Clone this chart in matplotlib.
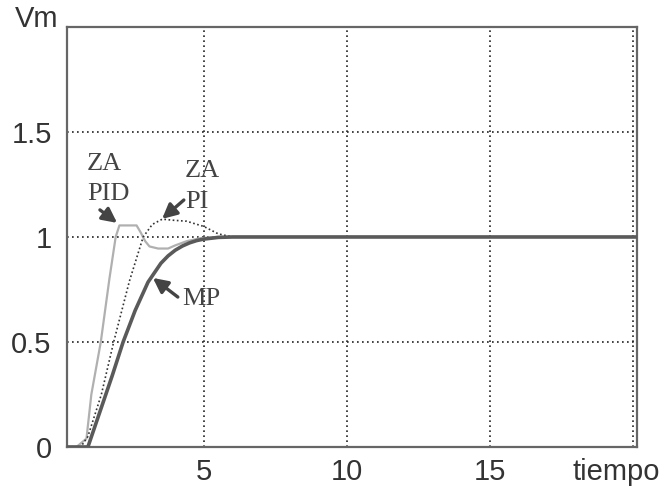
import numpy as np
import matplotlib
matplotlib.use("Agg")
import matplotlib.pyplot as plt

#####   DATA   #####
# MP response (thick solid)
t_mp = [0.22, 0.95, 1.2, 1.5, 1.8, 2.18, 2.6, 3.05, 3.5, 3.75, 4.0, 4.25, 4.5, 4.75, 5.0, 5.5, 6.0, 20.12]
v_mp = [0.0, 0.0, 0.1, 0.22, 0.34, 0.5, 0.65, 0.785, 0.875, 0.91, 0.937, 0.957, 0.972, 0.983, 0.99, 0.998, 1.0, 1.0]

# ZA PID response (light grey)
t_pid = [0.22, 0.55, 0.9, 1.07, 1.4, 1.7, 1.92, 2.05, 2.65, 2.8, 2.95, 3.1, 3.4, 3.75, 4.0, 4.4, 4.9, 5.5, 20.12]
v_pid = [0.0, 0.0, 0.04, 0.25, 0.5, 0.8, 1.0, 1.055, 1.055, 1.02, 0.98, 0.955, 0.945, 0.945, 0.96, 0.98, 0.995, 1.0, 1.0]

# ZA PI response (dotted)
t_pi = [0.22, 0.7, 0.95, 1.42, 1.85, 2.4, 2.88, 3.2, 3.55, 3.9, 4.4, 5.0, 5.5, 6.0, 20.12]
v_pi = [0.0, 0.0, 0.05, 0.25, 0.5, 0.79, 1.0, 1.06, 1.085, 1.08, 1.075, 1.05, 1.015, 1.0, 1.0]

xticks = [5, 10, 15, 20]
xticklabels = ["5", "10", "15", ""]
yticks = [0, 0.5, 1, 1.5, 2]
yticklabels = ["0", "0.5", "1", "1.5", ""]

#####   PLOT   #####
plt.rcParams['font.family'] = ['Liberation Sans', 'DejaVu Sans']
fig = plt.figure(figsize=(6.72, 4.95), dpi=100)
ax = fig.add_axes([0.0997, 0.097, 0.848, 0.8485])

ax.plot(t_pid, v_pid, color="#b0b0b0", lw=1.6, zorder=3)
ax.plot(t_pi, v_pi, color="#333333", lw=1.2, ls=(0, (1, 1.5)), zorder=4)
ax.plot(t_mp, v_mp, color="#5a5a5a", lw=2.6, zorder=5)

ax.set_xlim(0.22, 20.12)
ax.set_ylim(0, 2)
ax.set_xticks(xticks)
ax.set_xticklabels(xticklabels)
ax.set_yticks(yticks)
ax.set_yticklabels(yticklabels)
ax.tick_params(length=0, labelsize=21, colors="#333333", pad=8)
ax.tick_params(axis="y", pad=11)
ax.grid(True, color="#222222", ls=(0, (1, 2)), lw=1.2)
for s in ax.spines.values():
  s.set_color("#666666")
  s.set_linewidth(1.6)

# axis names sitting in place of the last tick labels
ax.annotate("Vm", xy=(0, 1), xycoords="axes fraction", xytext=(-6, 0),
            textcoords="offset points", ha="right", va="baseline",
            fontsize=21, color="#333333")
ax.annotate("tiempo", xy=(19.4, 0), xycoords=("data", "axes fraction"),
            xytext=(0, -8), textcoords="offset points", ha="center", va="top",
            fontsize=21, color="#333333")

# curve labels (serif, like the original)
serif = dict(family=["Liberation Serif", "DejaVu Serif"], fontsize=19,
             color="#444444", va="baseline")
ax.text(0.92, 1.319, "ZA", **serif)
ax.text(0.92, 1.176, "PID", **serif)
ax.text(4.34, 1.286, "ZA", **serif)
ax.text(4.34, 1.138, "PI", **serif)
ax.text(4.23, 0.676, "MP", **serif)

arrow = dict(arrowstyle="-|>", color="#444444", lw=2.4, mutation_scale=22,
             shrinkA=0, shrinkB=0)
ax.annotate("", xy=(1.97, 1.067), xytext=(1.37, 1.129), arrowprops=arrow)
ax.annotate("", xy=(3.54, 1.086), xytext=(4.30, 1.176), arrowprops=arrow)
ax.annotate("", xy=(3.22, 0.805), xytext=(4.09, 0.714), arrowprops=arrow)

fig.savefig("out.png", dpi=100)
